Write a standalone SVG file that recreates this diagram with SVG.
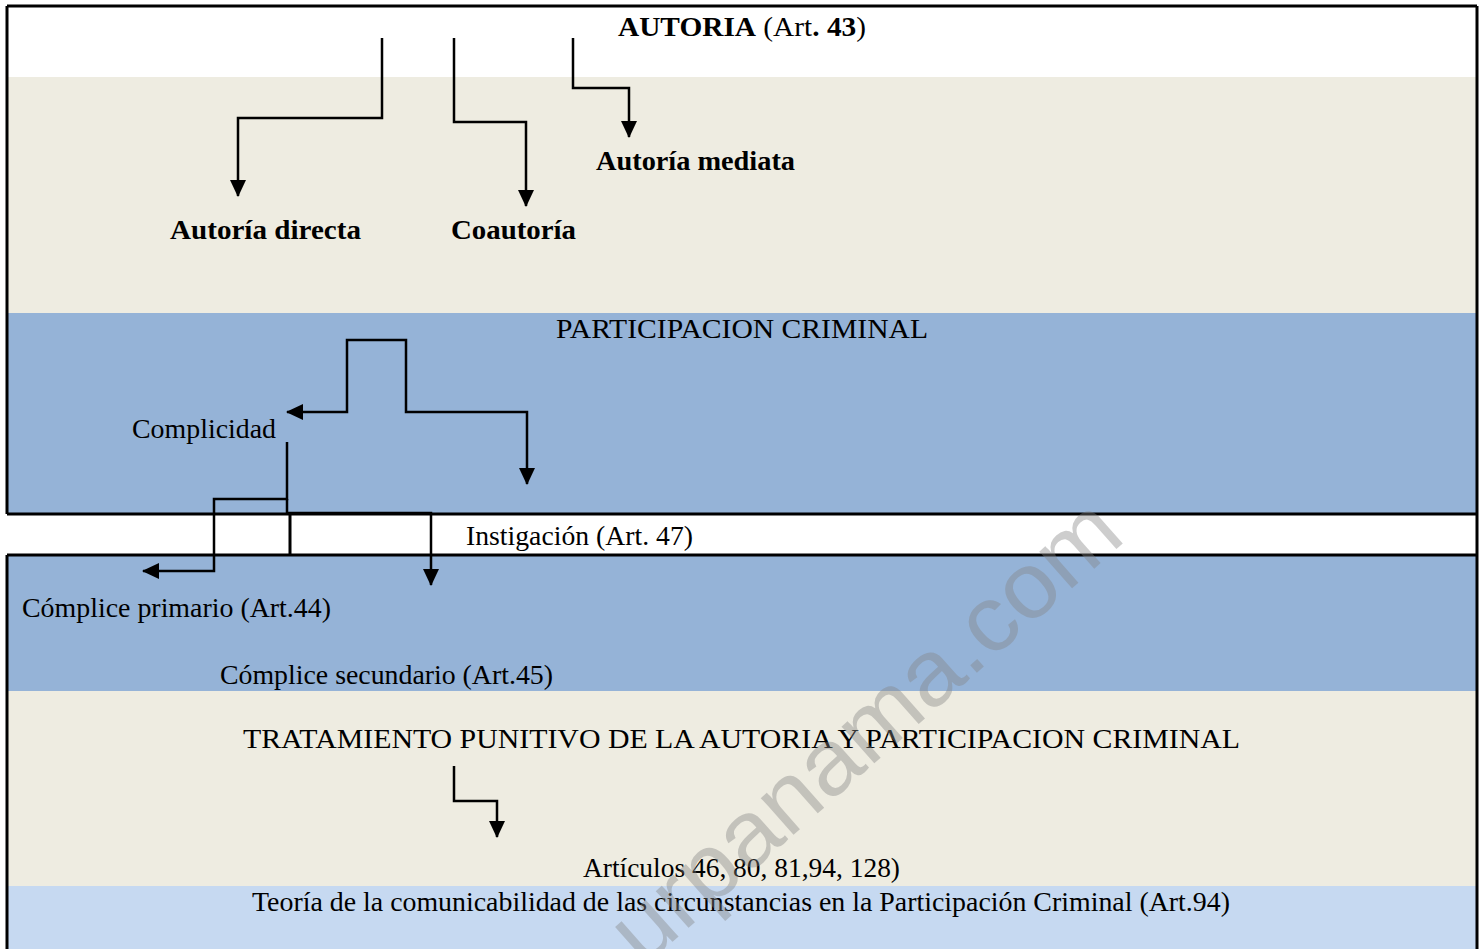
<svg xmlns="http://www.w3.org/2000/svg" width="1484" height="949" viewBox="0 0 1484 949">
<style>
.t{font-family:"Liberation Serif","Times New Roman",serif;font-size:28px;fill:#000}
.b{font-weight:bold}
.c{fill:none;stroke:#000;stroke-width:2.5}
.f{fill:none;stroke:#000;stroke-width:3}
.wm{font-family:"Liberation Sans",Arial,sans-serif;font-size:93px;fill:#858585;opacity:0.4}
</style>
<defs>
<marker id="ah" viewBox="0 0 17 16" refX="16" refY="8" markerWidth="17" markerHeight="16" markerUnits="userSpaceOnUse" orient="auto-start-reverse">
<path d="M0,0 L17,8 L0,16 Z" fill="#000"/>
</marker>
</defs>
<rect width="1484" height="949" fill="#fff"/>
<g id="bands">
<rect x="7" y="77" width="1470" height="236" fill="#EEECE1"/>
<rect x="7" y="313" width="1470" height="201" fill="#95B3D7"/>
<rect x="7" y="555" width="1470" height="136" fill="#95B3D7"/>
<rect x="7" y="691" width="1470" height="195" fill="#EEECE1"/>
<rect x="7" y="886" width="1470" height="63" fill="#C6D9F1"/>
</g>
<g id="frame">
<path class="f" d="M7,6 H1477 M7,6 V514 M1477,6 V949 M7,555 V949 M7,514 H1477 M7,555 H1477 M290,514 V555"/>
</g>
<g id="connectors">
<path class="c" d="M382,38 V118 H238 V196" marker-end="url(#ah)"/>
<path class="c" d="M454,38 V122 H526 V206" marker-end="url(#ah)"/>
<path class="c" d="M573,38 V88 H629 V137" marker-end="url(#ah)"/>
<path class="c" d="M287,412 H347 V340 H406 V412 H527 V484" marker-start="url(#ah)" marker-end="url(#ah)"/>
<path class="c" d="M287,442 V499 H214 V571 H143" marker-end="url(#ah)"/>
<path class="c" d="M287,499 V513 H431 V585" marker-end="url(#ah)"/>
<path class="c" d="M454,766 V801 H497 V837" marker-end="url(#ah)"/>
</g>
<g id="n-autoria"><text class="t" x="618" y="36" textLength="248" lengthAdjust="spacingAndGlyphs"><tspan class="b">AUTORIA</tspan> (Art<tspan class="b">. 43</tspan>)</text></g>
<g id="n-mediata"><text class="t b" x="596" y="170" textLength="199" lengthAdjust="spacingAndGlyphs">Autoría mediata</text></g>
<g id="n-directa"><text class="t b" x="170" y="239" textLength="191" lengthAdjust="spacingAndGlyphs">Autoría directa</text></g>
<g id="n-coautoria"><text class="t b" x="451" y="239" textLength="125" lengthAdjust="spacingAndGlyphs">Coautoría</text></g>
<g id="n-participacion"><text class="t" x="556" y="338" textLength="372" lengthAdjust="spacingAndGlyphs">PARTICIPACION CRIMINAL</text></g>
<g id="n-complicidad"><text class="t" x="132" y="438" textLength="144" lengthAdjust="spacingAndGlyphs">Complicidad</text></g>
<g id="n-instigacion"><text class="t" x="466" y="545" textLength="227" lengthAdjust="spacingAndGlyphs">Instigación (Art. 47)</text></g>
<g id="n-primario"><text class="t" x="22" y="617" textLength="309" lengthAdjust="spacingAndGlyphs">Cómplice primario (Art.44)</text></g>
<g id="n-secundario"><text class="t" x="220" y="684" textLength="333" lengthAdjust="spacingAndGlyphs">Cómplice secundario (Art.45)</text></g>
<g id="n-tratamiento"><text class="t" x="243" y="748" textLength="997" lengthAdjust="spacingAndGlyphs">TRATAMIENTO PUNITIVO DE LA AUTORIA Y PARTICIPACION CRIMINAL</text></g>
<g id="n-articulos"><text class="t" x="583" y="877" textLength="317" lengthAdjust="spacingAndGlyphs">Artículos 46, 80, 81,94, 128)</text></g>
<g id="n-teoria"><text class="t" x="252" y="911" textLength="978" lengthAdjust="spacingAndGlyphs">Teoría de la comunicabilidad de las circunstancias en la Participación Criminal (Art.94)</text></g>
<g id="watermark"><text class="wm" transform="translate(643,968) rotate(-41.5)" textLength="647" lengthAdjust="spacingAndGlyphs">urpanama.com</text></g>
</svg>
